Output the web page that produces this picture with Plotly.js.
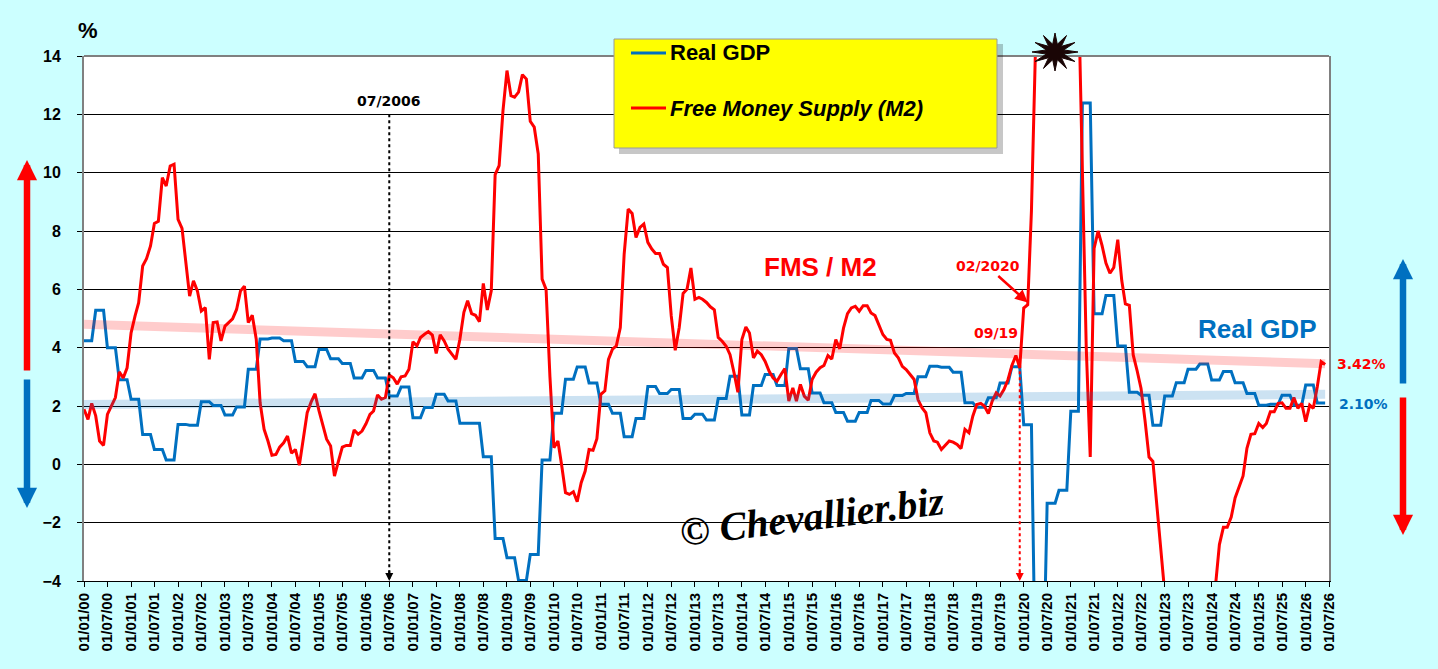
<!DOCTYPE html>
<html>
<head>
<meta charset="utf-8">
<script src="https://cdn.plot.ly/plotly-3.0.1.min.js"></script>
<style>
  html, body { margin: 0; padding: 0; background: #ccffff; }
  #chart { width: 1438px; height: 669px; }
</style>
</head>
<body>
<div id="chart"></div>
<script>
  // FMS / M2 growth, % y/y, monthly from Jan 2000
  var fmsM2 = [
    1.89, 1.54, 2.09, 1.66, 0.8, 0.65, 1.71, 1.98, 2.29, 3.17, 2.96, 3.31,
    4.51, 5.09, 5.54, 6.8, 7.05, 7.49, 8.26, 8.33, 9.83, 9.54, 10.23, 10.29,
    8.4, 8.09, 7.03, 5.77, 6.29, 5.94, 5.26, 5.37, 3.6, 4.86, 4.88, 4.23,
    4.74, 4.86, 4.99, 5.31, 5.94, 6.11, 4.86, 5.11, 4.29, 2.11, 1.2, 0.8,
    0.31, 0.34, 0.59, 0.74, 0.97, 0.38, 0.51, -0.03, 0.97, 1.77, 2.14, 2.42,
    1.83, 1.31, 0.86, 0.63, -0.4, 0.11, 0.59, 0.65, 0.65, 1.18, 1.03, 1.14,
    1.39, 1.71, 1.83, 2.38, 2.23, 2.29, 3.06, 2.97, 2.75, 3.0, 3.03, 3.26,
    4.2, 4.06, 4.35, 4.46, 4.55, 4.43, 3.8, 4.44, 4.23, 3.95, 3.78, 3.6,
    4.29, 5.21, 5.61, 5.17, 5.11, 4.89, 6.2, 5.29, 5.95, 9.93, 10.24, 12.13,
    13.5, 12.64, 12.59, 12.76, 13.36, 13.21, 11.76, 11.56, 10.64, 6.35, 6.0, 3.0,
    0.57, 0.8, 0.0, -0.97, -1.03, -0.94, -1.28, -0.63, -0.23, 0.51, 0.48, 0.88,
    2.4, 2.52, 3.6, 3.95, 4.06, 4.69, 7.21, 8.75, 8.6, 7.78, 8.12, 8.24,
    7.61, 7.38, 7.23, 7.23, 6.86, 6.75, 5.09, 3.91, 4.69, 5.86, 6.01, 6.73,
    5.66, 5.72, 5.66, 5.55, 5.4, 5.3, 4.35, 4.22, 4.05, 3.76, 3.14, 2.47,
    4.28, 4.71, 4.5, 3.65, 3.88, 3.76, 3.53, 3.19, 2.96, 2.85, 3.08, 3.28,
    2.17, 2.62, 2.17, 2.74, 2.34, 2.2, 2.91, 3.16, 3.31, 3.39, 3.73, 3.61,
    4.28, 3.96, 4.67, 5.17, 5.36, 5.42, 5.25, 5.44, 5.44, 5.19, 5.1, 4.75,
    4.45, 4.28, 4.25, 3.82, 3.65, 3.36, 3.25, 3.08, 2.91, 2.22, 1.94, 1.77,
    1.08, 0.8, 0.76, 0.51, 0.65, 0.8, 0.76, 0.68, 0.54, 1.2, 1.08, 1.65,
    2.05, 2.09, 2.0, 1.74, 2.17, 2.45, 2.34, 2.57, 2.91, 3.39, 3.73, 3.31,
    5.36, 5.47, 8.7, 18, 23, 25, 26, 26.5, 26, 25.5, 25, 24.5,
    24, 22, 16, 9.5, 4.0, 0.25, 7.4, 8.0, 7.5, 6.9, 6.55, 6.75,
    7.7, 6.3, 5.5, 5.45, 3.75, 3.2, 2.6, 1.5, 0.25, 0.1, -1.35, -2.9,
    -4.4, -4.6, -4.8, -5.0, -5.2, -5.1, -4.9, -4.8, -4.6, -4.5, -4.4, -4.3,
    -4.3, -4.1, -2.75, -2.16, -2.16, -1.81, -1.15, -0.75, -0.4, 0.55, 1.03, 1.05,
    1.4, 1.26, 1.4, 1.8, 1.8, 2.09, 2.11, 1.92, 1.92, 2.29, 1.92, 2.09,
    1.46, 2.03, 1.92, 2.66, 3.52, 3.42
  ];

  // Real GDP growth, % y/y, quarterly from Q1 2000 (held for the 3 months)
  var realGdp = [
    4.24, 5.28, 4.0, 2.9,
    2.23, 1.02, 0.51, 0.15,
    1.37, 1.34, 2.15, 2.02,
    1.69, 1.97, 3.26, 4.3,
    4.33, 4.24, 3.53, 3.35,
    3.94, 3.62, 3.46, 2.96,
    3.22, 2.96, 2.34, 2.65,
    1.6, 1.95, 2.4, 2.17,
    1.41, 1.41, 0.26, -2.54,
    -3.2, -3.98, -3.09, 0.15,
    1.75, 2.92, 3.34, 2.79,
    2.06, 1.75, 0.95, 1.57,
    2.67, 2.43, 2.57, 1.57,
    1.72, 1.52, 2.26, 3.02,
    1.69, 2.7, 3.08, 2.7,
    3.97, 3.28, 2.45, 2.11,
    1.78, 1.48, 1.78, 2.19,
    2.07, 2.36, 2.43, 3.0,
    3.36, 3.33, 3.16, 2.11,
    1.96, 2.28, 2.79, 3.35,
    1.36, -7.5, -1.33, -0.89,
    1.82, 12.39, 5.16, 5.79,
    4.06, 2.47, 2.37, 1.34,
    2.34, 2.8, 3.26, 3.44,
    2.89, 3.18, 2.8, 2.43,
    2.03, 2.06, 2.37, 2.03,
    2.72, 2.10
  ];

  // trend lines (start / end)
  var trendDates = ['2000-01-01', '2026-06-01'];
  var fmsTrend = [4.8, 3.45];
  var gdpTrend = [2.05, 2.4];

  var lastFms = '3.42%';
  var lastGdp = '2.10%';
  var markDate1 = '2006-07-01';
  var markDate2 = '2019-12-01';

  function monthDate(i) {
    var y = 2000 + Math.floor(i / 12);
    var mo = i % 12 + 1;
    return y + '-' + (mo < 10 ? '0' : '') + mo + '-01';
  }

  var fmsX = fmsM2.map(function (v, i) { return monthDate(i); });
  var gdpX = [], gdpY = [];
  realGdp.forEach(function (v, q) {
    for (var k = 0; k < 3; k++) {
      gdpX.push(monthDate(q * 3 + k));
      gdpY.push(v);
    }
  });

  // pixel -> paper helpers for the decorations
  var W = 1438, H = 669;
  var M = {l: 84, r: 109, t: 56, b: 88};
  var pw = W - M.l - M.r, ph = H - M.t - M.b;
  function px(x) { return (x - M.l) / pw; }
  function py(y) { return (H - M.b - y) / ph; }

  var BLUE = '#0070C0', RED = '#FF0000';
  var arial = 'Liberation Sans, Arial, sans-serif';
  var verdana = 'DejaVu Sans, Verdana, sans-serif';

  // starburst at the top
  var star = '';
  var cx = 1055, cy = 52;
  for (var i = 0; i < 24; i++) {
    var a = i * Math.PI / 12;
    var rx = i % 2 ? 9 : 23, ry = i % 2 ? 8 : 19;
    star += (i ? 'L' : 'M') + px(cx + rx * Math.cos(a)).toFixed(5) + ',' + py(cy + ry * Math.sin(a)).toFixed(5);
  }
  star += 'Z';

  var traces = [
    {x: gdpX, y: gdpY, mode: 'lines', line: {color: BLUE, width: 3}, hoverinfo: 'skip'},
    {x: fmsX, y: fmsM2, mode: 'lines', line: {color: RED, width: 3}, hoverinfo: 'skip'},
    {x: trendDates, y: fmsTrend, mode: 'lines', line: {color: 'rgba(255,0,0,0.2)', width: 9}, hoverinfo: 'skip'},
    {x: trendDates, y: gdpTrend, mode: 'lines', line: {color: 'rgba(0,112,192,0.2)', width: 9}, hoverinfo: 'skip'}
  ];

  var shapes = [
    {type: 'line', xref: 'paper', yref: 'paper', x0: 0, x1: 1, y0: 1, y1: 1, line: {color: '#808080', width: 2}},
    {type: 'line', xref: 'x', yref: 'y', x0: markDate1, x1: markDate1, y0: 12.0, y1: -3.75, line: {color: 'black', width: 2, dash: 'dot'}},
    {type: 'line', xref: 'x', yref: 'y', x0: markDate2, x1: markDate2, y0: 3.6, y1: -3.75, line: {color: RED, width: 2, dash: 'dot'}},
    {type: 'rect', xref: 'paper', yref: 'paper', x0: px(619), x1: px(1003), y0: py(44), y1: py(154), fillcolor: 'rgba(0,0,0,0.22)', line: {width: 0}},
    {type: 'rect', xref: 'paper', yref: 'paper', x0: px(614), x1: px(997), y0: py(39), y1: py(148), fillcolor: '#FFFF00', line: {color: '#9a9a9a', width: 1}},
    {type: 'line', xref: 'paper', yref: 'paper', x0: px(631), x1: px(666), y0: py(53), y1: py(53), line: {color: BLUE, width: 3}},
    {type: 'line', xref: 'paper', yref: 'paper', x0: px(631), x1: px(666), y0: py(108), y1: py(108), line: {color: RED, width: 3}},
    {type: 'path', xref: 'paper', yref: 'paper', path: star, fillcolor: '#1a0505', line: {color: '#1a0505', width: 1}}
  ];

  function arrow(x, y, ay, color) {
    return {xref: 'paper', yref: 'paper', x: px(x), y: py(y), ax: 0, ay: ay, text: '',
      showarrow: true, arrowhead: 2, arrowwidth: 6.5, arrowsize: 0.62, arrowcolor: color};
  }

  function label(x, y, text, font, anchor) {
    return {xref: 'paper', yref: 'paper', x: px(x), y: py(y), text: text, showarrow: false,
      xanchor: anchor || 'center', yanchor: 'middle', font: font};
  }

  var annotations = [
    label(88, 31, '%', {family: arial, size: 22, weight: 'bold', color: 'black'}),
    {xref: 'x', yref: 'y', x: markDate1, y: 12.1, xanchor: 'center', yanchor: 'bottom', text: '07/2006', showarrow: false,
      font: {family: verdana, size: 14, weight: 'bold', color: 'black'}},
    {xref: 'x', yref: 'y', x: markDate1, y: -4, ax: 0, ay: -12, text: '', showarrow: true,
      arrowhead: 2, arrowwidth: 2, arrowsize: 0.8, arrowcolor: 'black'},
    {xref: 'x', yref: 'y', x: markDate2, y: -4, ax: 0, ay: -12, text: '', showarrow: true,
      arrowhead: 2, arrowwidth: 2, arrowsize: 0.8, arrowcolor: RED},
    label(996, 333, '09/19', {family: verdana, size: 14, weight: 'bold', color: RED}),
    {xref: 'x', yref: 'y', x: '2020-02-01', y: 5.55, ax: -40, ay: -36, text: '02/2020', showarrow: true,
      arrowhead: 2, arrowwidth: 2.5, arrowsize: 1, arrowcolor: RED,
      font: {family: verdana, size: 14, weight: 'bold', color: RED}},
    label(820, 267, 'FMS / M2', {family: arial, size: 26, weight: 'bold', color: RED}),
    label(1257, 329, 'Real GDP', {family: arial, size: 26, weight: 'bold', color: BLUE}),
    label(1335, 364, lastFms, {family: verdana, size: 14, weight: 'bold', color: RED}, 'left'),
    label(1337, 404, lastGdp, {family: verdana, size: 14, weight: 'bold', color: BLUE}, 'left'),
    {xref: 'paper', yref: 'paper', x: px(812), y: py(516), xanchor: 'center', yanchor: 'middle',
      text: '© Chevallier.biz', showarrow: false, textangle: -7,
      font: {family: 'Liberation Serif, serif', size: 40, style: 'italic', weight: 'bold', color: 'black'}},
    label(668, 53, 'Real GDP', {family: arial, size: 22, weight: 'bold', color: 'black'}, 'left'),
    label(668, 108, 'Free Money Supply (M2)', {family: arial, size: 22, weight: 'bold', style: 'italic', color: 'black'}, 'left'),
    arrow(27, 160, 212, RED),
    arrow(27, 508, -130, BLUE),
    arrow(1403, 259, 126, BLUE),
    arrow(1403, 535, -139, RED)
  ];

  var layout = {
    width: W, height: H,
    margin: M,
    paper_bgcolor: '#ccffff',
    plot_bgcolor: 'white',
    showlegend: false,
    xaxis: {
      type: 'date', range: ['2000-01-01', '2026-07-01'],
      tick0: '2000-01-01', dtick: 'M6', tickformat: '%d/%m/%y', tickangle: -90,
      tickfont: {family: arial, size: 15, weight: 'bold', color: 'black'},
      ticks: 'outside', ticklen: 5, tickcolor: 'black',
      showgrid: false, showline: true, linecolor: 'black', linewidth: 1,
      automargin: false, fixedrange: true
    },
    yaxis: {
      range: [-4, 14], tick0: 0, dtick: 2,
      tickfont: {family: arial, size: 16, weight: 'bold', color: 'black'},
      ticks: 'outside', ticklen: 5, tickcolor: 'black', ticklabelstandoff: 13,
      showgrid: true, gridcolor: 'black', gridwidth: 1, zeroline: false,
      showline: true, linecolor: '#808080', linewidth: 2, mirror: true,
      automargin: false, fixedrange: true
    },
    shapes: shapes,
    annotations: annotations
  };

  Plotly.newPlot('chart', traces, layout, {displayModeBar: false, staticPlot: true});
</script>
</body>
</html>
